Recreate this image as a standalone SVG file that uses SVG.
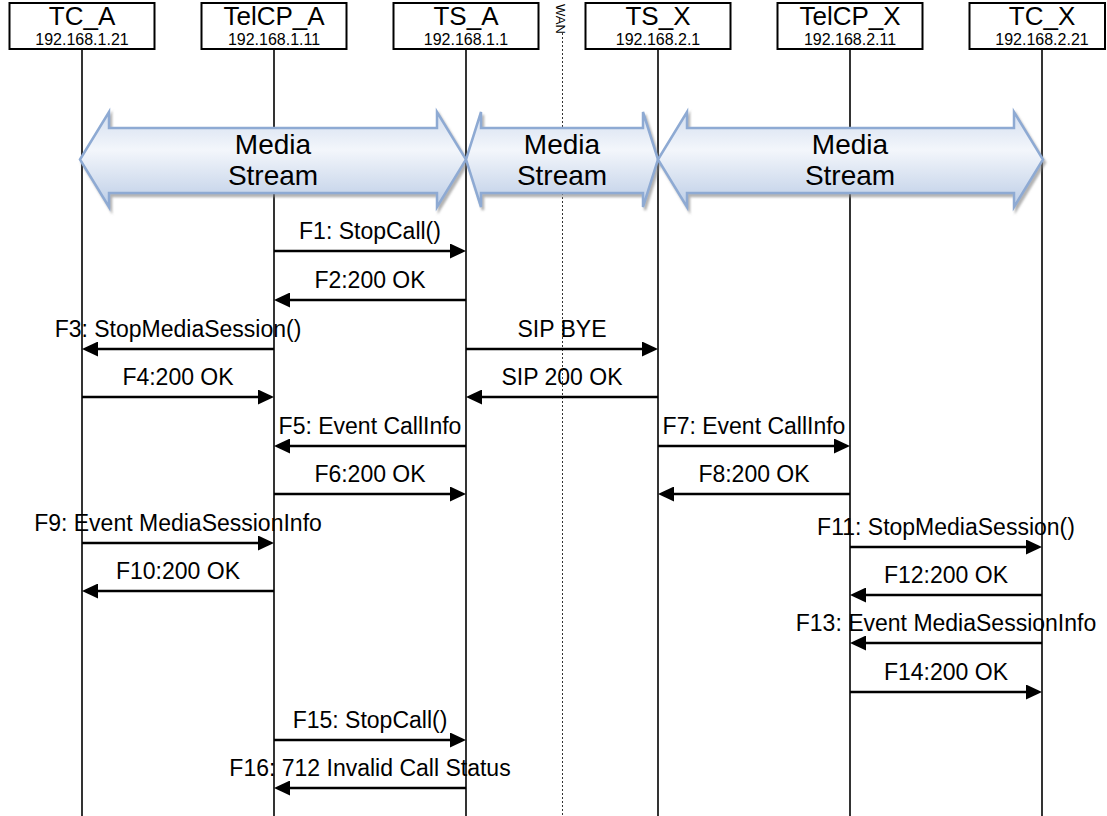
<svg xmlns="http://www.w3.org/2000/svg" width="1107" height="816" viewBox="0 0 1107 816">
<defs>
<style>
.box{fill:#fff;stroke:#000;stroke-width:2}
.t{font-family:"Liberation Sans",Arial,sans-serif;fill:#000;text-anchor:middle}
.title{font-size:26px}
.ip{font-size:16px}
.life{stroke:#000;stroke-width:1.6}
.wan{stroke:#333;stroke-width:1;stroke-dasharray:2 2}
.msg{stroke:#000;stroke-width:2.4;fill:none;marker-end:url(#ah)}
.lbl{font-size:23px}
.ms{fill:url(#g);stroke:#8eaad3;stroke-width:2.5;filter:url(#sh)}
.mst{font-size:28px}
</style>
<linearGradient id="g" x1="0" y1="0" x2="0" y2="1">
<stop offset="0" stop-color="#d3deef"/>
<stop offset="0.4" stop-color="#f3f6fb"/>
<stop offset="1" stop-color="#bccde6"/>
</linearGradient>
<filter id="sh" x="-5%" y="-10%" width="115%" height="130%">
<feDropShadow dx="2" dy="3" stdDeviation="1.2" flood-color="#808080" flood-opacity="0.6"/>
</filter>
<marker id="ah" markerWidth="16" markerHeight="15" viewBox="0 0 16 15" refX="0" refY="7.5" orient="auto" markerUnits="userSpaceOnUse">
<path d="M0,0 L16,7.5 L0,15 z" fill="#000"/>
</marker>
</defs>

<g id="TC_A">
<rect class="box" x="9.5" y="3" width="145" height="46"/>
<text class="t title" x="82" y="25">TC_A</text>
<text class="t ip" x="82" y="45">192.168.1.21</text>
<line class="life" x1="82" y1="49" x2="82" y2="816"/>
</g>
<g id="TelCP_A">
<rect class="box" x="201.5" y="3" width="145" height="46"/>
<text class="t title" x="274" y="25">TelCP_A</text>
<text class="t ip" x="274" y="45">192.168.1.11</text>
<line class="life" x1="274" y1="49" x2="274" y2="816"/>
</g>
<g id="TS_A">
<rect class="box" x="393.5" y="3" width="145" height="46"/>
<text class="t title" x="466" y="25">TS_A</text>
<text class="t ip" x="466" y="45">192.168.1.1</text>
<line class="life" x1="466" y1="49" x2="466" y2="816"/>
</g>
<g id="WAN">
<text class="t" style="font-size:13px;text-anchor:start" transform="translate(556,4) rotate(90)">WAN</text>
<line class="wan" x1="562.5" y1="33" x2="562.5" y2="816"/>
</g>
<g id="TS_X">
<rect class="box" x="585.5" y="3" width="145" height="46"/>
<text class="t title" x="658" y="25">TS_X</text>
<text class="t ip" x="658" y="45">192.168.2.1</text>
<line class="life" x1="658" y1="49" x2="658" y2="816"/>
</g>
<g id="TelCP_X">
<rect class="box" x="777.5" y="3" width="145" height="46"/>
<text class="t title" x="850" y="25">TelCP_X</text>
<text class="t ip" x="850" y="45">192.168.2.11</text>
<line class="life" x1="850" y1="49" x2="850" y2="816"/>
</g>
<g id="TC_X">
<rect class="box" x="969.5" y="3" width="135.5" height="46"/>
<text class="t title" x="1042" y="25">TC_X</text>
<text class="t ip" x="1042" y="45">192.168.2.21</text>
<line class="life" x1="1042" y1="49" x2="1042" y2="816"/>
</g>

<g id="media-streams">
<g id="ms1">
<polygon class="ms" points="80,159.5 109,112 109,128 437,128 437,112 466,159.5 437,207 437,193 109,193 109,207"/>
<text class="t mst" x="273" y="154">Media</text>
<text class="t mst" x="273" y="185">Stream</text>
</g>
<g id="ms2">
<polygon class="ms" points="466,159.5 481,112 481,128 643,128 643,112 658,159.5 643,207 643,193 481,193 481,207"/>
<text class="t mst" x="562" y="154">Media</text>
<text class="t mst" x="562" y="185">Stream</text>
</g>
<g id="ms3">
<polygon class="ms" points="658,159.5 687,112 687,128 1014,128 1014,112 1043,159.5 1014,207 1014,193 687,193 687,207"/>
<text class="t mst" x="850" y="154">Media</text>
<text class="t mst" x="850" y="185">Stream</text>
</g>
</g>

<g id="connectors">
<line class="msg" x1="274" y1="251" x2="450" y2="251"/>
<text class="t lbl" x="370" y="239">F1: StopCall()</text>
<line class="msg" x1="466" y1="300" x2="290" y2="300"/>
<text class="t lbl" x="370" y="288">F2:200 OK</text>
<line class="msg" x1="274" y1="349" x2="98" y2="349"/>
<text class="t lbl" x="178" y="337">F3: StopMediaSession()</text>
<line class="msg" x1="466" y1="349" x2="642" y2="349"/>
<text class="t lbl" x="562" y="337">SIP BYE</text>
<line class="msg" x1="82" y1="397" x2="258" y2="397"/>
<text class="t lbl" x="178" y="385">F4:200 OK</text>
<line class="msg" x1="658" y1="397" x2="482" y2="397"/>
<text class="t lbl" x="562" y="385">SIP 200 OK</text>
<line class="msg" x1="466" y1="446" x2="290" y2="446"/>
<text class="t lbl" x="370" y="434">F5: Event CallInfo</text>
<line class="msg" x1="658" y1="446" x2="834" y2="446"/>
<text class="t lbl" x="754" y="434">F7: Event CallInfo</text>
<line class="msg" x1="274" y1="494" x2="450" y2="494"/>
<text class="t lbl" x="370" y="482">F6:200 OK</text>
<line class="msg" x1="850" y1="494" x2="674" y2="494"/>
<text class="t lbl" x="754" y="482">F8:200 OK</text>
<line class="msg" x1="82" y1="543" x2="258" y2="543"/>
<text class="t lbl" x="178" y="531">F9: Event MediaSessionInfo</text>
<line class="msg" x1="274" y1="591" x2="98" y2="591"/>
<text class="t lbl" x="178" y="579">F10:200 OK</text>
<line class="msg" x1="850" y1="547" x2="1026" y2="547"/>
<text class="t lbl" x="946" y="535">F11: StopMediaSession()</text>
<line class="msg" x1="1042" y1="595" x2="866" y2="595"/>
<text class="t lbl" x="946" y="583">F12:200 OK</text>
<line class="msg" x1="1042" y1="643" x2="866" y2="643"/>
<text class="t lbl" x="946" y="631">F13: Event MediaSessionInfo</text>
<line class="msg" x1="850" y1="692" x2="1026" y2="692"/>
<text class="t lbl" x="946" y="680">F14:200 OK</text>
<line class="msg" x1="274" y1="740" x2="450" y2="740"/>
<text class="t lbl" x="370" y="728">F15: StopCall()</text>
<line class="msg" x1="466" y1="788" x2="290" y2="788"/>
<text class="t lbl" x="370" y="776">F16: 712 Invalid Call Status</text>
</g>
</svg>
